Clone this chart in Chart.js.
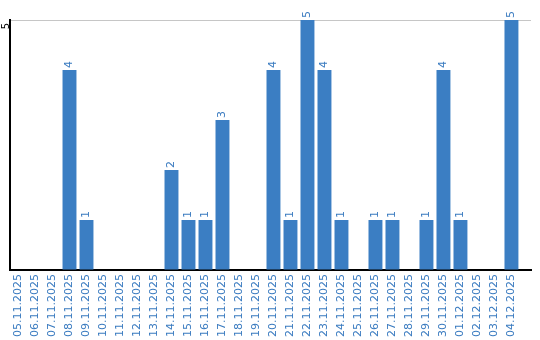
<!DOCTYPE html>
<html>
<head>
<meta charset="utf-8">
<script src="https://cdn.jsdelivr.net/npm/chart.js"></script>
<style>
  html, body { margin: 0; padding: 0; background: #fff; }
  canvas { display: block; }
</style>
</head>
<body>
<canvas id="dayChart" width="540" height="340"></canvas>
<script>
var days = ['05.11.2025', '06.11.2025', '07.11.2025', '08.11.2025', '09.11.2025', '10.11.2025',
    '11.11.2025', '12.11.2025', '13.11.2025', '14.11.2025', '15.11.2025', '16.11.2025',
    '17.11.2025', '18.11.2025', '19.11.2025', '20.11.2025', '21.11.2025', '22.11.2025',
    '23.11.2025', '24.11.2025', '25.11.2025', '26.11.2025', '27.11.2025', '28.11.2025',
    '29.11.2025', '30.11.2025', '01.12.2025', '02.12.2025', '03.12.2025', '04.12.2025'];
var counts = [0, 0, 0, 4, 1, 0, 0, 0, 0, 2, 1, 1, 3, 0, 0, 4, 1, 5, 4, 1, 0, 1, 1, 0, 1, 4, 1, 0, 0, 5];
var yTicks = [5];

var blue = '#3b7ec3';
var labelBlue = '#3a7bc0';

// value written above each bar, turned like the axis labels
var barValues = {
    id: 'barValues',
    afterDatasetsDraw: function (chart) {
        var ctx = chart.ctx;
        var meta = chart.getDatasetMeta(0);
        ctx.save();
        ctx.font = '11px "DejaVu Sans"';
        ctx.fillStyle = labelBlue;
        ctx.textAlign = 'left';
        ctx.textBaseline = 'middle';
        meta.data.forEach(function (bar, i) {
            if (!counts[i]) return;
            ctx.save();
            ctx.translate(bar.x, bar.y - 2);
            ctx.rotate(-Math.PI / 2);
            ctx.fillText(String(counts[i]), 0, 0);
            ctx.restore();
        });
        ctx.restore();
    }
};

document.addEventListener('DOMContentLoaded', function () {
    var ctx = document.getElementById('dayChart').getContext('2d');
    var chart = new Chart(ctx, {
        type: 'bar',
        data: {
            datasets: [{
                data: counts.map(function (v, i) { return { x: i, y: v }; }),
                backgroundColor: blue,
                borderWidth: 0,
                categoryPercentage: 1,
                barPercentage: 0.82
            }]
        },
        options: {
            responsive: false,
            animation: { duration: 0 },
            layout: { padding: { top: 20, right: 9, left: 0, bottom: 0 } },
            plugins: {
                legend: { display: false },
                tooltip: { enabled: false }
            },
            scales: {
                x: {
                    type: 'linear',
                    offset: false,
                    min: -0.5,
                    max: 30.15,
                    afterBuildTicks: function (scale) {
                        scale.ticks = days.map(function (d, i) { return { value: i }; });
                    },
                    afterFit: function (scale) { scale.height = 70; },
                    grid: { display: false, drawTicks: false, offset: false },
                    border: { display: true, color: '#000', width: 2 },
                    ticks: {
                        autoSkip: false,
                        minRotation: 90,
                        maxRotation: 90,
                        padding: 4,
                        color: labelBlue,
                        font: { family: 'DejaVu Sans', size: 11 },
                        callback: function (value) { return days[value]; }
                    }
                },
                y: {
                    min: 0,
                    max: 5,
                    afterBuildTicks: function (scale) {
                        scale.ticks = [{ value: 0 }].concat(yTicks.map(function (v) { return { value: v }; }));
                    },
                    afterFit: function (scale) { scale.width = 10; },
                    grid: {
                        drawTicks: false,
                        color: function (c) { return c.tick && c.tick.value === 5 ? '#c6c6c6' : 'rgba(0,0,0,0)'; },
                        lineWidth: 1
                    },
                    border: { display: true, color: '#000', width: 2 },
                    ticks: {
                        minRotation: 90,
                        maxRotation: 90,
                        labelOffset: 3,
                        padding: 4,
                        color: '#000',
                        font: { family: 'DejaVu Sans', size: 10 },
                        callback: function (value) { return yTicks.indexOf(value) >= 0 ? String(value) : ''; }
                    }
                }
            }
        },
        plugins: [barValues]
    });
});
</script>
</body>
</html>
